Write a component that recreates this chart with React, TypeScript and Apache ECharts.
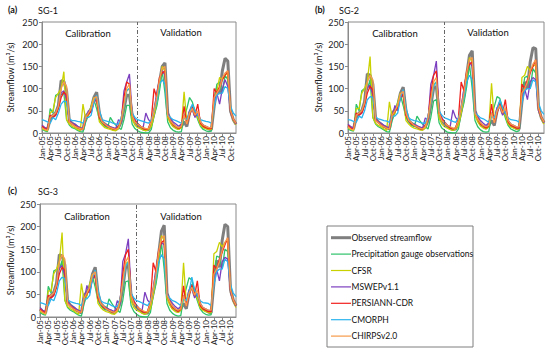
import React, { useEffect, useRef } from "react";
import * as echarts from "echarts";

const monthNames = ["Jan", "Feb", "Mar", "Apr", "May", "Jun", "Jul", "Aug", "Sep", "Oct", "Nov", "Dec"];
const years = ["05", "06", "07", "08", "09", "10"];
const categories: string[] = [];
years.forEach((y) => monthNames.forEach((m) => categories.push(`${m}-${y}`)));

const seriesNames = [
  "Observed streamflow",
  "Precipitation gauge observations",
  "CFSR",
  "MSWEPv1.1",
  "PERSIANN-CDR",
  "CMORPH",
  "CHIRPSv2.0",
];
const seriesColors = ["#7f7f7f", "#2ec26a", "#c9d100", "#7b3fbf", "#f0201c", "#2ab4ee", "#f79a4a"];

// ---------- SG-1 ----------
const obsA = [14,10,8,30,40,45,62,118,116,95,28,22, 18,13,10,8,38,45,55,80,92,45,25,20, 16,12,9,8,12,25,55,85,85,40,25,18, 13,9,7,8,20,45,75,115,150,158,45,28, 18,13,10,15,25,15,45,60,40,42,22,15, 12,9,8,60,100,88,140,168,162,50,30,20];
const gaugeA = [8,5,3,55,45,85,88,86,90,30,18,12, 10,6,3,2,25,40,60,75,55,30,22,15, 12,35,25,18,12,8,30,62,62,20,10,5, 2,1,0,0,8,40,60,95,140,90,25,12, 6,3,2,3,35,55,80,70,50,30,15,8, 5,3,4,70,110,115,90,130,120,50,30,22];
const cfsrA = [10,7,5,45,50,80,90,100,138,30,20,15, 12,8,5,65,30,40,60,80,70,25,18,12, 10,8,6,5,10,30,60,95,100,30,18,12, 10,7,5,8,15,40,70,110,150,140,35,22, 14,10,8,12,93,25,45,55,40,35,18,12, 10,8,8,70,95,125,120,130,135,45,28,18];
const mswepA = [18,12,10,40,35,40,60,90,95,75,28,22, 20,15,12,10,30,50,45,70,75,35,25,20, 18,14,12,10,30,25,95,115,133,45,30,22, 15,12,45,30,25,50,90,120,140,130,45,32, 25,20,15,20,40,25,50,55,35,45,25,18, 15,12,10,70,90,65,100,120,105,45,30,20];
const persiannA = [15,10,8,40,35,40,55,80,92,85,25,20, 16,12,10,8,35,42,50,70,78,35,25,18, 15,12,9,8,15,30,80,115,110,40,28,20, 15,10,8,10,30,100,80,125,135,140,40,28, 18,14,10,14,60,20,40,58,40,65,22,15, 12,10,10,100,90,105,120,130,140,50,32,22];
const cmorphA = [30,28,25,22,35,30,45,65,72,70,32,28, 28,26,25,22,35,35,40,70,85,50,30,28, 26,25,22,20,20,35,60,95,100,45,35,30, 28,26,24,22,30,50,70,110,120,110,40,35, 30,28,25,22,35,30,45,65,50,40,30,28, 26,25,22,60,85,90,90,105,100,60,45,38];
const chirpsA = [12,8,6,35,40,45,60,100,115,105,25,20, 15,12,10,8,35,45,55,78,82,40,25,20, 15,12,10,8,12,30,65,100,110,40,25,20, 15,12,10,10,25,50,80,120,145,150,40,28, 20,15,12,15,40,20,45,55,40,50,25,18, 15,12,12,80,90,100,125,135,140,50,32,22];

// ---------- SG-2 ----------
const obsB = [16,12,9,35,45,50,70,133,130,110,32,25, 20,15,12,9,45,52,62,90,103,50,28,22, 18,14,10,9,14,28,62,100,105,45,28,20, 15,10,8,9,22,50,85,130,175,185,50,32, 20,15,11,17,28,17,50,68,45,48,25,17, 14,10,9,70,115,100,160,192,190,58,35,23];
const gaugeB = [9,6,4,65,50,95,100,98,120,35,20,14, 11,7,3,2,28,45,68,85,62,34,25,17, 14,38,28,20,14,9,35,72,75,23,11,6, 2,1,0,0,9,45,68,105,155,100,28,14, 7,3,2,3,40,60,82,78,55,34,17,9, 6,3,5,80,125,128,100,145,135,55,34,25];
const cfsrB = [12,8,6,55,55,90,100,115,172,35,22,17, 14,9,6,70,35,45,68,90,80,28,20,14, 11,9,7,6,11,35,68,110,115,34,20,14, 11,8,6,9,17,45,80,125,170,160,40,25, 16,11,9,14,112,28,50,62,45,40,20,14, 11,9,9,125,130,150,140,150,155,50,32,20];
const mswepB = [20,14,11,45,40,45,68,102,108,85,32,25, 22,17,14,11,35,62,50,80,85,40,28,22, 20,16,14,11,34,28,110,130,162,50,34,25, 17,14,52,35,28,57,100,135,160,150,50,36, 28,22,17,23,45,28,57,62,40,50,28,20, 17,14,11,80,100,75,115,125,120,50,34,23];
const persiannB = [17,11,9,45,40,45,62,90,105,97,28,23, 18,14,11,9,40,48,57,80,88,40,28,20, 17,14,10,9,17,34,90,130,140,45,32,23, 17,11,9,11,34,115,95,140,155,160,45,32, 20,16,11,16,65,23,45,66,45,75,25,17, 14,11,11,110,100,120,135,150,165,57,36,25];
const cmorphB = [30,29,26,24,38,34,50,75,82,80,36,32, 30,28,27,24,38,38,45,80,98,57,34,30, 28,27,24,22,22,38,68,105,115,50,40,34, 32,29,26,24,34,57,80,115,130,120,45,40, 34,32,28,24,40,34,50,75,57,45,34,30, 29,28,24,68,95,100,100,120,115,68,50,42];
const chirpsB = [14,9,7,40,45,50,68,115,130,120,28,23, 17,14,11,9,40,50,62,88,94,45,28,23, 17,14,11,9,14,34,75,115,125,45,28,23, 17,14,11,11,28,57,90,137,165,170,45,32, 23,17,14,17,45,23,50,62,45,57,28,20, 17,14,14,90,100,115,140,155,165,57,36,25];

// ---------- SG-3 ----------
const obsC = [17,12,9,37,48,55,75,138,135,115,34,26, 21,16,12,9,48,55,65,95,110,52,30,23, 19,15,11,9,15,30,65,110,115,48,30,21, 16,11,8,9,24,53,90,140,190,203,53,34, 21,16,12,18,30,18,53,72,48,50,27,18, 15,11,9,75,125,110,170,205,200,62,38,25];
const gaugeC = [10,6,4,68,53,102,105,105,125,37,21,15, 12,8,4,2,30,48,72,90,66,36,26,18, 15,40,30,21,15,10,37,78,80,25,12,6, 2,1,0,0,10,48,72,112,165,105,30,15, 8,4,2,3,42,64,87,82,58,36,18,10, 6,4,5,85,135,132,108,150,145,58,36,26];
const cfsrC = [13,9,6,58,58,96,106,122,187,37,23,18, 15,10,6,74,37,48,72,95,85,30,21,15, 12,10,7,6,12,37,72,118,122,36,21,15, 12,8,6,10,18,48,85,132,180,170,42,26, 17,12,10,15,120,30,53,66,48,42,21,15, 12,10,10,140,145,165,155,165,170,53,34,21];
const mswepC = [21,15,12,48,42,48,72,108,114,90,34,26, 23,18,15,12,37,70,53,85,90,42,30,23, 21,17,15,12,36,30,123,140,173,53,36,26, 18,15,55,37,30,60,106,143,165,160,53,38, 30,23,18,24,48,30,60,66,42,53,30,21, 18,15,12,85,106,80,122,132,128,53,36,24];
const persiannC = [18,12,10,48,42,48,66,95,110,103,30,24, 19,15,12,10,42,51,60,85,93,42,30,21, 18,15,11,10,18,36,95,138,150,48,34,24, 18,12,10,12,36,120,100,148,165,170,48,34, 21,17,12,17,69,24,48,70,48,80,26,18, 15,12,12,115,106,128,143,160,175,60,38,26];
const cmorphC = [32,30,28,25,40,36,53,80,88,85,38,34, 32,30,29,25,40,40,48,85,104,60,36,32, 30,29,25,23,23,40,72,112,122,53,42,36, 34,31,28,25,36,60,85,122,138,128,48,42, 36,34,30,25,42,36,53,88,60,48,36,32, 31,30,25,72,100,106,106,128,122,72,53,45];
const chirpsC = [15,10,7,42,48,53,72,122,138,128,30,24, 18,15,12,10,42,53,66,93,100,48,30,24, 18,15,12,10,15,36,80,122,133,48,30,24, 18,15,12,12,30,60,95,145,175,180,48,34, 24,18,15,18,48,24,53,66,48,60,30,21, 18,15,15,95,106,122,148,165,175,60,38,26];

const panelData = [
  [obsA, gaugeA, cfsrA, mswepA, persiannA, cmorphA, chirpsA],
  [obsB, gaugeB, cfsrB, mswepB, persiannB, cmorphB, chirpsB],
  [obsC, gaugeC, cfsrC, mswepC, persiannC, cmorphC, chirpsC],
];
const panelTags = ["(a)", "(b)", "(c)"];
const panelTitles = ["SG-1", "SG-2", "SG-3"];
const splitCategory = "Dec-07";
const yMax = 250;
const yStep = 50;

const FONT = "Lato, 'Open Sans', sans-serif";

export default function App() {
  const ref = useRef<HTMLDivElement>(null);
  useEffect(() => {
    if (!ref.current) return;
    const chart = echarts.init(ref.current, undefined, { renderer: "svg" });
    const grids = [
      { left: 42, top: 22, width: 194, height: 111 },
      { left: 348, top: 22, width: 196, height: 111 },
      { left: 40, top: 204, width: 196, height: 113 },
    ];
    const nameGaps = [27, 25, 25];
    const xAxis = grids.map((_, i) => ({
      type: "category",
      gridIndex: i,
      data: categories,
      boundaryGap: false,
      axisLine: { lineStyle: { color: "#8a8a8a" } },
      axisTick: { show: true, interval: 2, length: 3, lineStyle: { color: "#8a8a8a" } },
      axisLabel: { interval: 2, rotate: 90, fontSize: 8, color: "#222", margin: 3, fontFamily: FONT },
    }));
    const yAxis = grids.map((_, i) => ({
      type: "value",
      gridIndex: i,
      min: 0,
      max: yMax,
      interval: yStep,
      name: "Streamflow (m³/s)",
      nameLocation: "middle",
      nameGap: nameGaps[i],
      nameTextStyle: { fontSize: 9, color: "#222", fontFamily: FONT },
      axisLine: { show: true, lineStyle: { color: "#8a8a8a" } },
      axisTick: { show: true, length: 3, lineStyle: { color: "#8a8a8a" } },
      splitLine: { show: false },
      axisLabel: { fontSize: 9, color: "#222", margin: 4, fontFamily: FONT },
    }));
    const series: any[] = [];
    panelData.forEach((panel, p) => {
      panel.forEach((vals, s) => {
        series.push({
          type: "line",
          name: seriesNames[s],
          xAxisIndex: p,
          yAxisIndex: p,
          data: vals,
          symbol: "none",
          z: s === 0 ? 2 : 3,
          lineStyle: { color: seriesColors[s], width: s === 0 ? 3 : 1.3 },
          markLine:
            s === 0
              ? {
                  silent: true,
                  symbol: "none",
                  label: { show: false },
                  lineStyle: { color: "#666", width: 1, type: [4, 2, 1, 2] },
                  data: [{ xAxis: splitCategory }],
                }
              : undefined,
        });
      });
    });

    const textStyle = (size: number, weight = "normal") => ({
      fontSize: size,
      fontFamily: FONT,
      fill: "#111",
      fontWeight: weight,
    });
    const graphic: any[] = [];
    const tagPos = [
      [8, 9, 38],
      [315, 9, 339],
      [8, 190, 38],
    ];
    tagPos.forEach(([x, y, x2], i) => {
      graphic.push({ type: "text", x, y, style: { ...textStyle(9, "bold"), text: panelTags[i], verticalAlign: "middle" } });
      graphic.push({ type: "text", x: x2, y: y + 1, style: { ...textStyle(9), text: panelTitles[i], verticalAlign: "middle" } });
    });
    const phasePos = [
      [88, 33, 181, 32],
      [395, 33, 488, 32],
      [87, 216, 181, 216],
    ];
    phasePos.forEach(([cx, cy, vx, vy]) => {
      graphic.push({ type: "text", x: cx, y: cy, style: { ...textStyle(9.5), text: "Calibration", align: "center", verticalAlign: "middle" } });
      graphic.push({ type: "text", x: vx, y: vy, style: { ...textStyle(9.5), text: "Validation", align: "center", verticalAlign: "middle" } });
    });
    // legend box
    graphic.push({
      type: "rect",
      shape: { x: 327, y: 226, width: 146, height: 121 },
      style: { fill: "#fff", stroke: "#7f7f7f", lineWidth: 1 },
    });
    seriesNames.forEach((n, i) => {
      const y = 237.7 + i * 16.4;
      graphic.push({
        type: "line",
        shape: { x1: 331, y1: y, x2: 351, y2: y },
        style: { stroke: seriesColors[i], lineWidth: i === 0 ? 3 : 1.2 },
      });
      graphic.push({ type: "text", x: 351.5, y, style: { ...textStyle(8.5), text: n, verticalAlign: "middle" } });
    });

    chart.setOption({
      animation: false,
      backgroundColor: "#fff",
      textStyle: { fontFamily: FONT },
      grid: grids.map((g) => ({ ...g, show: true, borderColor: "#8a8a8a", borderWidth: 1, backgroundColor: "transparent" })),
      xAxis,
      yAxis,
      series,
      graphic,
    });
    return () => chart.dispose();
  }, []);
  return <div ref={ref} style={{ width: 550, height: 354, position: "absolute", left: 0, top: 0 }} />;
}
